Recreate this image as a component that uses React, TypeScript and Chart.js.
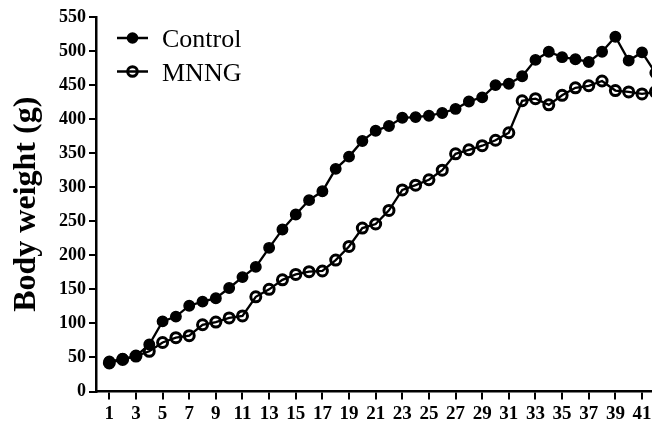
import React, { useEffect, useRef } from "react";
import { Chart, registerables } from "chart.js";

Chart.register(...registerables);

const days = [
  1, 2, 3, 4, 5, 6, 7, 8, 9, 10, 11, 12, 13, 14, 15, 16, 17, 18, 19, 20, 21,
  22, 23, 24, 25, 26, 27, 28, 29, 30, 31, 32, 33, 34, 35, 36, 37, 38, 39, 40,
  41, 42,
];

const controlWeights = [
  44, 48, 52, 69, 103, 110, 126, 132, 137, 152, 168, 183, 211, 238, 260, 281,
  294, 327, 345, 368, 383, 390, 402, 403, 405, 409, 415, 426, 432, 450, 452,
  463, 487, 499, 491, 488, 484, 499, 521, 486, 498, 468,
];

const mnngWeights = [
  42, 47, 52, 59, 72, 79, 82, 98, 102, 108, 111, 139, 150, 164, 172, 176, 177,
  193, 213, 240, 246, 266, 296, 303, 311, 325, 349, 355, 361, 369, 380, 427,
  430, 421, 435, 446, 449, 456, 442, 440, 437, 440,
];

const xTickValues = [
  1, 3, 5, 7, 9, 11, 13, 15, 17, 19, 21, 23, 25, 27, 29, 31, 33, 35, 37, 39, 41,
];

const seriesNames = ["Control", "MNNG"];
const yTitle = "Body weight (g)";

const SERIF = '"Liberation Serif", "Times New Roman", serif';

const legendPlugin = {
  id: "customLegend",
  afterDraw(chart: any) {
    const ctx = chart.ctx as CanvasRenderingContext2D;
    ctx.save();
    const rows = [
      { y: 38, base: 46.5, filled: true, label: seriesNames[0] },
      { y: 71.5, base: 80.5, filled: false, label: seriesNames[1] },
    ];
    rows.forEach((r) => {
      ctx.strokeStyle = "#000";
      ctx.lineWidth = 2.5;
      ctx.beginPath();
      ctx.moveTo(117, r.y);
      ctx.lineTo(148, r.y);
      ctx.stroke();
      ctx.beginPath();
      if (r.filled) {
        ctx.fillStyle = "#000";
        ctx.arc(132.5, r.y, 5.8, 0, Math.PI * 2);
        ctx.fill();
      } else {
        ctx.lineWidth = 3;
        ctx.arc(132.5, r.y, 4.8, 0, Math.PI * 2);
        ctx.stroke();
      }
      ctx.fillStyle = "#000";
      ctx.font = `26px ${SERIF}`;
      ctx.textBaseline = "alphabetic";
      ctx.textAlign = "left";
      ctx.fillText(r.label, 162, r.base);
    });
    ctx.restore();
  },
};

export default function App() {
  const ref = useRef<HTMLCanvasElement | null>(null);

  useEffect(() => {
    if (!ref.current) return;
    const chart = new Chart(ref.current, {
      type: "line",
      data: {
        datasets: [
          {
            label: seriesNames[0],
            data: days.map((d, i) => ({ x: d, y: controlWeights[i] })),
            borderColor: "#000",
            borderWidth: 2.3,
            pointRadius: 5.2,
            pointBorderWidth: 1.5,
            pointBackgroundColor: "#000",
            pointBorderColor: "#000",
            tension: 0,
          },
          {
            label: seriesNames[1],
            data: days.map((d, i) => ({ x: d, y: mnngWeights[i] })),
            borderColor: "#000",
            borderWidth: 2.3,
            pointRadius: 5,
            pointBorderWidth: 3,
            pointBackgroundColor: "rgba(0,0,0,0)",
            pointBorderColor: "#000",
            tension: 0,
          },
        ],
      },
      options: {
        animation: false,
        responsive: false,
        maintainAspectRatio: false,
        layout: { padding: { top: 17, right: 20, left: 0, bottom: 0 } },
        plugins: {
          legend: { display: false },
          tooltip: { enabled: false },
        },
        scales: {
          x: {
            type: "linear",
            min: 0,
            max: 41.75,
            afterBuildTicks: (scale: any) => {
              scale.ticks = xTickValues.map((v) => ({ value: v }));
            },
            afterFit: (scale: any) => {
              scale.height = 35.5;
            },
            grid: {
              display: true,
              drawOnChartArea: false,
              drawTicks: true,
              tickLength: 8,
              color: "#000",
              lineWidth: 2,
            },
            border: { display: true, color: "#000", width: 2.5 },
            ticks: {
              autoSkip: false,
              maxRotation: 0,
              padding: 3,
              color: "#000",
              font: { family: SERIF, size: 19, weight: "bold" },
              callback: (v: any) => String(v),
            },
          },
          y: {
            min: 0,
            max: 550,
            afterFit: (scale: any) => {
              scale.width = 96;
            },
            grid: {
              display: true,
              drawOnChartArea: false,
              drawTicks: true,
              tickLength: 7,
              color: "#000",
              lineWidth: 2,
            },
            border: { display: true, color: "#000", width: 2.5 },
            ticks: {
              stepSize: 50,
              padding: 3,
              color: "#000",
              font: { family: SERIF, size: 18, weight: "bold" },
            },
            title: {
              display: true,
              text: yTitle,
              color: "#000",
              padding: { top: 8, bottom: 0 },
              font: { family: SERIF, size: 32, weight: "bold" },
            },
          },
        },
      },
      plugins: [legendPlugin],
    } as any);
    return () => chart.destroy();
  }, []);

  return (
    <div
      style={{
        position: "absolute",
        left: 0,
        top: 0,
        width: 652,
        height: 427,
        overflow: "hidden",
        background: "#fff",
      }}
    >
      <canvas ref={ref} width={672} height={427} style={{ width: 672, height: 427 }} />
    </div>
  );
}
